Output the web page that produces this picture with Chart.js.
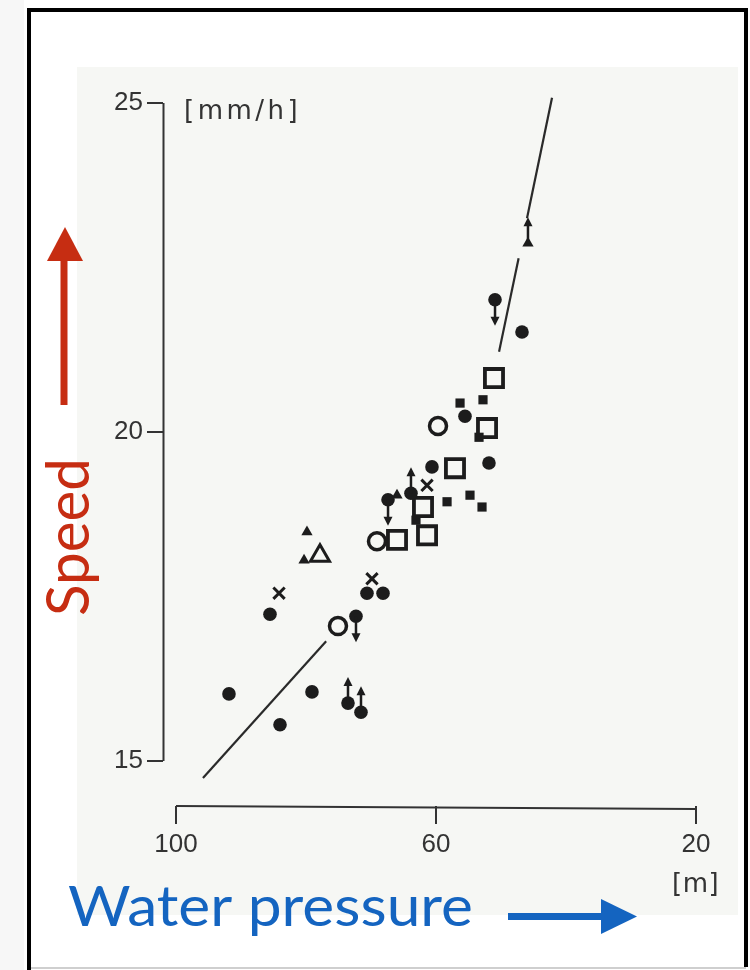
<!DOCTYPE html>
<html>
<head>
<meta charset="utf-8">
<script src="https://cdn.jsdelivr.net/npm/chart.js@4.4.1/dist/chart.umd.min.js"></script>
<style>
  html, body { margin: 0; padding: 0; background: #fff; }
  #wrap { position: relative; width: 750px; height: 970px; }
</style>
</head>
<body>
<div id="wrap"><canvas id="chart" width="750" height="970"></canvas></div>
<script>
// --- DATA ---
const xTicks = [100, 60, 20];
const yTicks = [15, 20, 25];

// filled dots
const dotX = [91.85, 84.0, 85.54, 79.08, 73.54, 71.54, 72.31, 70.62, 68.15, 67.38, 63.85, 60.62, 55.54, 51.85, 50.92, 46.77];
const dotY = [16.02, 15.55, 17.23, 16.05, 15.88, 15.74, 17.2, 17.55, 17.55, 18.97, 19.07, 19.47, 20.24, 19.53, 22.01, 21.52];

// open circles
const ringX = [59.69, 69.08, 75.08];
const ringY = [20.09, 18.34, 17.05];

// open squares
const boxX = [51.08, 52.15, 57.08, 62.0, 61.38, 66.0];
const boxY = [20.82, 20.06, 19.45, 18.86, 18.43, 18.36];

// small filled squares
const blockX = [56.3, 52.77, 53.38, 58.3, 54.77, 52.92, 63.08];
const blockY = [20.44, 20.49, 19.92, 18.94, 19.04, 18.86, 18.66];

// triangles
const openTriX = [77.85];
const openTriY = [18.12];
const solidTriX = [79.85, 80.3, 45.85, 66.0];
const solidTriY = [18.48, 18.05, 22.87, 19.04];

// crosses
const crossX = [84.15, 69.85, 61.38];
const crossY = [17.55, 17.77, 19.19];

// points carrying an arrow
const upX = [73.54, 71.54, 63.85, 45.85];
const upY = [15.88, 15.74, 19.07, 22.87];
const downX = [72.31, 67.38, 50.92];
const downY = [17.2, 18.97, 22.01];

// trend lines (upper one is broken around the triangle)
const lowFitX = [95.85, 76.9];
const lowFitY = [14.74, 16.82];
const highFitAX = [50.3, 47.29];
const highFitAY = [21.22, 22.64];
const highFitBX = [46.0, 42.15];
const highFitBY = [23.25, 25.08];

const INK = '#1c1c1c';
const TICK_INK = '#333333';
const TICK_FONT = '"Liberation Sans", Arial, sans-serif';
const UNIT_FONT = '"DejaVu Sans", sans-serif';

const pts = (xs, ys) => xs.map((x, i) => ({ x: x, y: ys[i] }));

function markers(xs, ys, style, radius, filled, bw) {
  return {
    data: pts(xs, ys),
    pointStyle: style,
    pointRadius: radius,
    pointBackgroundColor: filled ? INK : 'rgba(0,0,0,0)',
    pointBorderColor: INK,
    pointBorderWidth: bw,
    showLine: false,
    clip: false
  };
}

function fitLine(xs, ys) {
  return {
    data: pts(xs, ys),
    showLine: true,
    borderColor: '#2a2a2a',
    borderWidth: 2.2,
    pointRadius: 0,
    clip: false
  };
}

// --- PAGE DECORATION ---
const backdrop = {
  id: 'backdrop',
  beforeDraw(chart) {
    const c = chart.ctx;
    c.save();
    c.fillStyle = '#ffffff';
    c.fillRect(0, 0, 750, 970);
    c.fillStyle = '#f7f7f7';
    c.fillRect(0, 0, 24, 970);
    // scanned figure area
    c.fillStyle = '#f6f7f4';
    c.fillRect(77, 67, 661, 848);
    // frame
    c.strokeStyle = '#000';
    c.lineWidth = 4;
    c.beginPath();
    c.moveTo(29, 970);
    c.lineTo(29, 10);
    c.lineTo(746, 10);
    c.lineTo(746, 967);
    c.stroke();
    c.strokeStyle = '#cfcfcf';
    c.lineWidth = 2;
    c.beginPath();
    c.moveTo(31, 968);
    c.lineTo(746, 968);
    c.stroke();
    c.restore();
  }
};

function spacedText(c, str, x, y, gap) {
  let cx = x;
  for (const ch of str) {
    c.fillText(ch, cx, y);
    cx += c.measureText(ch).width + gap;
  }
}

function fittedText(c, str, x, y, width) {
  const w = c.measureText(str).width;
  c.save();
  c.translate(x, y);
  c.scale(width / w, 1);
  c.fillText(str, 0, 0);
  c.restore();
}

const overlay = {
  id: 'overlay',
  afterDraw(chart) {
    const c = chart.ctx;
    const xs = chart.scales.x, ys = chart.scales.y;
    c.save();

    // axis lines, only over the labelled range
    c.strokeStyle = TICK_INK;
    c.lineWidth = 2;
    c.beginPath();
    c.moveTo(xs.left + 0.5, ys.getPixelForValue(yTicks[0]));
    c.lineTo(xs.left + 0.5, ys.getPixelForValue(yTicks[yTicks.length - 1]));
    c.moveTo(xs.getPixelForValue(xTicks[0]), ys.bottom);
    c.lineTo(xs.getPixelForValue(xTicks[xTicks.length - 1]), ys.bottom + 3);
    c.stroke();

    // arrows on points
    c.strokeStyle = INK;
    c.fillStyle = INK;
    c.lineWidth = 2.5;
    const arrow = (v, w, dir) => {
      const px = xs.getPixelForValue(v);
      const py = ys.getPixelForValue(w);
      const tip = py + dir * 26;
      c.beginPath();
      c.moveTo(px, py);
      c.lineTo(px, tip - dir * 6);
      c.stroke();
      c.beginPath();
      c.moveTo(px, tip);
      c.lineTo(px - 4.5, tip - dir * 9);
      c.lineTo(px + 4.5, tip - dir * 9);
      c.closePath();
      c.fill();
    };
    upX.forEach((v, i) => arrow(v, upY[i], -1));
    downX.forEach((v, i) => arrow(v, downY[i], 1));

    // units
    c.fillStyle = TICK_INK;
    c.font = '26px ' + UNIT_FONT;
    c.textBaseline = 'middle';
    spacedText(c, '[mm/h]', xs.left + 21, ys.getPixelForValue(25) + 9, 3.5);
    spacedText(c, '[m]', xs.getPixelForValue(20) - 24, 885, 0.5);

    // Speed label and arrow
    c.fillStyle = '#c62d12';
    c.font = '60px Lato, "Open Sans", sans-serif';
    c.textBaseline = 'alphabetic';
    c.save();
    c.translate(89, 616);
    c.rotate(-Math.PI / 2);
    fittedText(c, 'Speed', 0, 0, 158);
    c.restore();
    c.fillRect(60.5, 256, 7, 149);
    c.beginPath();
    c.moveTo(47, 261);
    c.lineTo(83, 261);
    c.lineTo(65, 227);
    c.closePath();
    c.fill();

    // Water pressure label and arrow
    c.fillStyle = '#1464c0';
    c.font = '56px Lato, "Open Sans", sans-serif';
    fittedText(c, 'Water pressure', 68, 926, 405);
    c.fillRect(508, 913, 96, 7);
    c.beginPath();
    c.moveTo(601, 899);
    c.lineTo(601, 934);
    c.lineTo(637, 916.5);
    c.closePath();
    c.fill();

    c.restore();
  }
};

// --- CHART ---
const ctx = document.getElementById('chart').getContext('2d');
new Chart(ctx, {
  type: 'scatter',
  data: {
    datasets: [
      fitLine(lowFitX, lowFitY),
      fitLine(highFitAX, highFitAY),
      fitLine(highFitBX, highFitBY),
      markers(dotX, dotY, 'circle', 6.8, true, 0),
      markers(ringX, ringY, 'circle', 8.5, false, 3.5),
      markers(boxX, boxY, 'rect', 12.8, false, 3.8),
      markers(blockX, blockY, 'rect', 6.5, true, 0),
      markers(openTriX, openTriY, 'triangle', 11, false, 3),
      markers(solidTriX, solidTriY, 'triangle', 6.5, true, 0),
      markers(crossX, crossY, 'crossRot', 8, false, 3)
    ]
  },
  options: {
    responsive: false,
    animation: false,
    events: [],
    layout: { padding: { left: 60, top: 90, right: 28, bottom: 84 } },
    plugins: { legend: { display: false }, tooltip: { enabled: false } },
    scales: {
      x: {
        type: 'linear',
        reverse: true,
        min: 16,
        max: 102,
        afterBuildTicks: s => { s.ticks = xTicks.map(v => ({ value: v })); },
        afterFit: s => { s.height = 80; },
        border: { display: false },
        grid: { drawOnChartArea: false, drawTicks: true, tickLength: 18, color: TICK_INK, lineWidth: 2 },
        ticks: { autoSkip: false, maxRotation: 0, padding: 5, color: TICK_INK, font: { family: TICK_FONT, size: 26 } }
      },
      y: {
        type: 'linear',
        min: 14.316,
        max: 25.198,
        afterBuildTicks: s => { s.ticks = yTicks.map(v => ({ value: v })); },
        afterFit: s => { s.width = 103; },
        border: { display: false },
        grid: { drawOnChartArea: false, drawTicks: true, tickLength: 16, color: TICK_INK, lineWidth: 2 },
        ticks: { padding: 4, color: TICK_INK, font: { family: TICK_FONT, size: 26 } }
      }
    }
  },
  plugins: [backdrop, overlay]
});
</script>
</body>
</html>
